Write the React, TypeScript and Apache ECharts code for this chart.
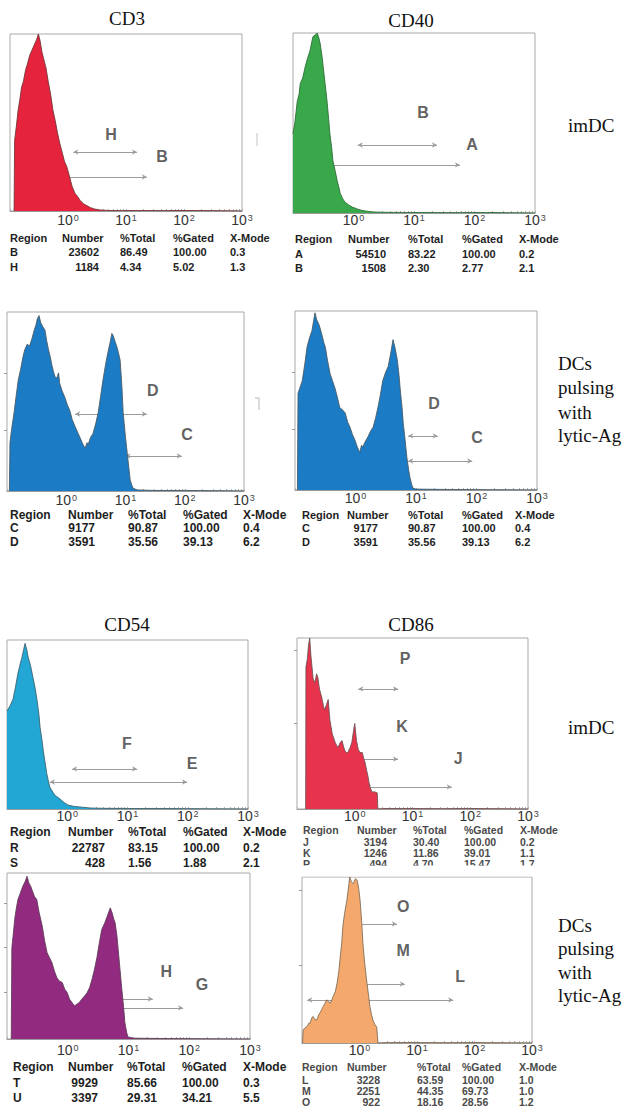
import React, { useEffect, useRef } from "react";
import * as echarts from "echarts";

// ---------- data ----------
const panelTitles = ["CD3", "CD40", "CD54", "CD86"];
const rowLabelTop = "imDC";
const rowLabelBottom = ["DCs", "pulsing", "with", "lytic-Ag"];
const tableHeader = ["Region", "Number", "%Total", "%Gated", "X-Mode"];
const decadeTicks = [0, 1, 2, 3];

// histograms: [log10 fluorescence, relative count (0-100)]
const histCd3Imdc = [
  [-0.93, 0], [-0.92, 40], [-0.89, 48], [-0.86, 57], [-0.83, 63], [-0.8, 70], [-0.77, 73], [-0.73, 80],
  [-0.7, 83], [-0.66, 88], [-0.62, 91], [-0.58, 94], [-0.54, 97], [-0.51, 100], [-0.48, 96], [-0.45, 90],
  [-0.42, 86], [-0.38, 81], [-0.34, 73], [-0.3, 66], [-0.26, 57], [-0.22, 51], [-0.18, 44], [-0.14, 38],
  [-0.1, 33], [-0.06, 28], [-0.02, 25], [0.03, 19], [0.07, 14], [0.12, 10], [0.17, 8], [0.21, 6],
  [0.27, 4], [0.33, 3], [0.38, 2], [0.45, 1.2], [0.55, 0.6], [0.7, 0.3], [0.9, 0.2], [1.2, 0.3],
  [1.6, 0.2], [2.0, 0.3], [2.5, 0.2], [3, 0],
];
const histCd40Imdc = [
  [-1, 44], [-0.97, 50], [-0.93, 62], [-0.9, 66], [-0.88, 72], [-0.84, 75], [-0.8, 81], [-0.76, 86],
  [-0.72, 90], [-0.69, 95], [-0.67, 98], [-0.63, 99], [-0.6, 100], [-0.57, 97], [-0.55, 94], [-0.52, 87],
  [-0.5, 81], [-0.47, 72], [-0.44, 63], [-0.41, 52], [-0.39, 44], [-0.36, 36], [-0.34, 29], [-0.3, 23],
  [-0.27, 18], [-0.24, 14], [-0.22, 11], [-0.18, 8], [-0.14, 6], [-0.08, 4.5], [-0.02, 3.3], [0.05, 2.4],
  [0.11, 1.7], [0.2, 1.1], [0.32, 0.6], [0.5, 0.4], [0.8, 0.3], [1.2, 0.3], [1.6, 0.2], [2.2, 0.3], [3, 0],
];
const histCd3Pulsed = [
  [-0.96, 0], [-0.95, 27], [-0.92, 35], [-0.88, 44], [-0.85, 52], [-0.81, 62], [-0.77, 68], [-0.73, 75],
  [-0.7, 79], [-0.66, 82], [-0.62, 81], [-0.58, 85], [-0.54, 90], [-0.51, 93], [-0.49, 96], [-0.46, 98],
  [-0.43, 94], [-0.4, 92], [-0.36, 90], [-0.33, 84], [-0.3, 79], [-0.27, 75], [-0.24, 70], [-0.21, 66],
  [-0.19, 64], [-0.16, 63], [-0.13, 66], [-0.11, 60], [-0.07, 56], [-0.02, 52], [0.02, 48], [0.06, 45],
  [0.1, 40], [0.15, 36], [0.19, 33], [0.23, 30], [0.27, 27], [0.3, 25], [0.32, 24], [0.35, 27],
  [0.37, 26], [0.41, 30], [0.45, 32], [0.5, 38], [0.54, 44], [0.58, 53], [0.62, 62], [0.66, 70],
  [0.7, 77], [0.74, 83], [0.77, 88], [0.79, 87], [0.82, 84], [0.86, 80], [0.89, 76], [0.91, 73],
  [0.94, 58], [0.96, 44], [1.0, 30], [1.03, 21], [1.06, 12], [1.08, 6], [1.11, 3], [1.13, 1.5],
  [1.2, 0.6], [1.5, 0.3], [2, 0.3], [2.5, 0.2], [3, 0],
];
const histCd40Pulsed = [
  [-0.96, 0], [-0.95, 54], [-0.92, 57], [-0.88, 61], [-0.84, 70], [-0.8, 80], [-0.76, 85], [-0.72, 89],
  [-0.69, 95], [-0.67, 99], [-0.64, 95], [-0.61, 93], [-0.59, 91], [-0.55, 86], [-0.52, 82], [-0.5, 80],
  [-0.46, 72], [-0.42, 65], [-0.38, 61], [-0.34, 57], [-0.3, 52], [-0.26, 46], [-0.22, 45], [-0.17, 43],
  [-0.13, 38], [-0.09, 35], [-0.05, 31], [-0.01, 28], [0.03, 24], [0.07, 21], [0.1, 25], [0.12, 24],
  [0.16, 27], [0.21, 30], [0.25, 33], [0.29, 35], [0.33, 40], [0.37, 46], [0.41, 53], [0.45, 61],
  [0.5, 66], [0.54, 69], [0.58, 76], [0.62, 84], [0.65, 80], [0.69, 73], [0.72, 64], [0.74, 56],
  [0.77, 46], [0.79, 37], [0.82, 28], [0.85, 18], [0.88, 11], [0.9, 7], [0.93, 3], [0.95, 1],
  [1.0, 0.5], [1.5, 0.3], [2, 0.2], [3, 0],
];
const histCd54Imdc = [
  [-1, 58], [-0.95, 61], [-0.9, 65], [-0.86, 72], [-0.82, 80], [-0.78, 86], [-0.75, 90], [-0.72, 95],
  [-0.7, 98], [-0.67, 94], [-0.65, 90], [-0.61, 85], [-0.57, 78], [-0.53, 71], [-0.5, 64], [-0.47, 56],
  [-0.45, 48], [-0.42, 41], [-0.4, 35], [-0.37, 28], [-0.34, 21], [-0.31, 16], [-0.29, 13], [-0.24, 10],
  [-0.2, 8], [-0.14, 6.5], [-0.09, 5], [-0.04, 3.5], [0.01, 2.4], [0.1, 1.6], [0.21, 1.2], [0.38, 0.6],
  [0.6, 0.4], [1, 0.3], [1.5, 0.3], [2, 0.2], [3, 0],
];
const histCd86Imdc = [
  [-0.85, 0], [-0.845, 83], [-0.82, 88], [-0.8, 96], [-0.78, 100], [-0.76, 90], [-0.74, 83], [-0.72, 76],
  [-0.69, 74], [-0.66, 79], [-0.64, 77], [-0.61, 70], [-0.57, 65], [-0.54, 60], [-0.52, 58], [-0.49, 61],
  [-0.46, 64], [-0.43, 52], [-0.39, 44], [-0.36, 41], [-0.34, 39], [-0.31, 37], [-0.29, 36], [-0.25, 39],
  [-0.22, 40], [-0.19, 36], [-0.17, 34], [-0.14, 33], [-0.12, 33], [-0.08, 36], [-0.05, 39], [-0.02, 46],
  [0.0, 50], [0.03, 40], [0.06, 35], [0.09, 33], [0.13, 33], [0.16, 29], [0.18, 27], [0.21, 22],
  [0.23, 19], [0.26, 13], [0.3, 10], [0.35, 10], [0.39, 9.4], [0.4, 0], [0.5, 0.3], [1, 0.3],
  [1.5, 0.2], [2, 0.3], [3, 0],
];
const histCd54Pulsed = [
  [-0.93, 0], [-0.92, 55], [-0.9, 62], [-0.87, 73], [-0.85, 78], [-0.82, 84], [-0.78, 88], [-0.74, 92],
  [-0.7, 95], [-0.67, 98], [-0.64, 94], [-0.61, 92], [-0.59, 90], [-0.55, 86], [-0.51, 84], [-0.47, 76],
  [-0.42, 68], [-0.38, 59], [-0.34, 52], [-0.3, 49], [-0.26, 46], [-0.22, 41], [-0.18, 37], [-0.14, 35],
  [-0.09, 34], [-0.05, 30], [-0.01, 28], [0.03, 24], [0.07, 22], [0.11, 20], [0.15, 21], [0.19, 22],
  [0.23, 24], [0.28, 26], [0.32, 28], [0.36, 31], [0.4, 36], [0.44, 42], [0.48, 49], [0.52, 58],
  [0.56, 66], [0.61, 70], [0.65, 74], [0.68, 77], [0.7, 79], [0.73, 76], [0.76, 72], [0.78, 70],
  [0.81, 62], [0.83, 54], [0.86, 42], [0.89, 30], [0.92, 19], [0.94, 10], [0.97, 4], [0.99, 1.2],
  [1.1, 0.5], [1.5, 0.3], [2, 0.2], [3, 0],
];
const histCd86Pulsed = [
  [-0.99, 0], [-0.98, 8], [-0.95, 9], [-0.91, 10], [-0.88, 12], [-0.86, 12], [-0.83, 15], [-0.81, 16],
  [-0.77, 14], [-0.74, 14], [-0.71, 17], [-0.69, 18], [-0.66, 20], [-0.63, 22], [-0.6, 24], [-0.57, 26],
  [-0.54, 25], [-0.51, 24], [-0.48, 26], [-0.46, 28], [-0.42, 31], [-0.39, 36], [-0.36, 43], [-0.34, 50],
  [-0.31, 60], [-0.29, 70], [-0.26, 78], [-0.22, 86], [-0.19, 94], [-0.17, 100], [-0.14, 97], [-0.11, 96],
  [-0.07, 99], [-0.04, 98], [-0.01, 92], [0.01, 86], [0.04, 72], [0.06, 60], [0.09, 48], [0.13, 36],
  [0.16, 28], [0.18, 22], [0.21, 17], [0.23, 14], [0.27, 11], [0.3, 9.6], [0.32, 0], [0.5, 0.3],
  [1, 0.3], [1.5, 0.2], [2, 0.3], [3, 0],
];

// region markers: [name, from, to, level]
const gatesCd3Imdc = [["H", 0.09, 1.19, 33.3], ["B", -0.5, 1.36, 19.2]];
const gatesCd40Imdc = [["B", 0.07, 1.38, 37.8], ["A", -1, 1.76, 26.7]];
const gatesCd3Pulsed = [["D", 0.15, 1.36, 43], ["C", 1.0, 1.95, 19.6]];
const gatesCd40Pulsed = [["D", 0.87, 1.36, 30.2], ["C", 0.87, 1.93, 16.2]];
const gatesCd54Imdc = [["F", 0.08, 1.16, 23.7], ["E", -0.29, 1.99, 16]];
const gatesCd86Imdc = [["P", 0.06, 0.75, 70.2], ["K", -0.1, 0.75, 29.2], ["J", 0.2, 1.68, 12.9]];
const gatesCd54Pulsed = [["H", 0.8, 1.4, 24.1], ["G", 0.8, 1.9, 18.7]];
const gatesCd86Pulsed = [["O", -0.17, 0.65, 71.7], ["M", -0.17, 0.79, 35.5], ["L", -0.91, 1.63, 25.9]];

// statistics tables
const tableCd3Imdc = [["B", "23602", "86.49", "100.00", "0.3"], ["H", "1184", "4.34", "5.02", "1.3"]];
const tableCd40Imdc = [["A", "54510", "83.22", "100.00", "0.2"], ["B", "1508", "2.30", "2.77", "2.1"]];
const tableCd3Pulsed = [["C", "9177", "90.87", "100.00", "0.4"], ["D", "3591", "35.56", "39.13", "6.2"]];
const tableCd40Pulsed = [["C", "9177", "90.87", "100.00", "0.4"], ["D", "3591", "35.56", "39.13", "6.2"]];
const tableCd54Imdc = [["R", "22787", "83.15", "100.00", "0.2"], ["S", "428", "1.56", "1.88", "2.1"]];
const tableCd86Imdc = [["J", "3194", "30.40", "100.00", "0.2"], ["K", "1246", "11.86", "39.01", "1.1"], ["P", "494", "4.70", "15.47", "1.7"]];
const tableCd54Pulsed = [["T", "9929", "85.66", "100.00", "0.3"], ["U", "3397", "29.31", "34.21", "5.5"]];
const tableCd86Pulsed = [["L", "3228", "63.59", "100.00", "1.0"], ["M", "2251", "44.35", "69.73", "1.0"], ["O", "922", "18.16", "28.56", "1.2"]];

// ---------- layout ----------
const SANS = "'Liberation Sans', Arial, Helvetica, sans-serif";
const SERIF = "'Liberation Serif', 'Times New Roman', serif";

const panels = [
  { box: [10, 34, 232, 177], color: "#e5233d", edge: "#6e3434", hist: histCd3Imdc, gates: gatesCd3Imdc,
    labelAt: { H: [0.74, 43.5], B: [1.62, 31] }, table: tableCd3Imdc, cols: [10, 62, 99, 120, 173, 230],
    rowsY: [238, 252, 267], font: 11, tcolor: "#1e1e1e", margin: 2, yTicks: [] },
  { box: [293, 33, 242, 180], color: "#39a84b", edge: "#2d6a34", hist: histCd40Imdc, gates: gatesCd40Imdc,
    labelAt: { B: [1.15, 55.6], A: [1.96, 38.3] }, table: tableCd40Imdc, cols: [295, 348, 386, 408, 462, 519],
    rowsY: [239, 254, 268], font: 11, tcolor: "#1e1e1e", margin: 0, yTicks: [] },
  { box: [7, 312, 237, 179], color: "#1b7bc4", edge: "#4a5860", hist: histCd3Pulsed, gates: gatesCd3Pulsed,
    labelAt: { D: [1.46, 56.4], C: [2.04, 31.8] }, table: tableCd3Pulsed, cols: [10, 68, 95, 128, 183, 243],
    rowsY: [515, 528, 542], font: 12, tcolor: "#1e1e1e", margin: 2, yTicks: [34, 66] },
  { box: [295, 311, 242, 179], color: "#1b7bc4", edge: "#4a5860", hist: histCd40Pulsed, gates: gatesCd40Pulsed,
    labelAt: { D: [1.3, 48.6], C: [2.01, 29.6] }, table: tableCd40Pulsed, cols: [302, 347, 378, 408, 462, 515],
    rowsY: [515, 528, 542], font: 11, tcolor: "#1e1e1e", margin: 1, yTicks: [34, 66] },
  { box: [7, 640, 241, 169], color: "#22a6d4", edge: "#3b5e6a", hist: histCd54Imdc, gates: gatesCd54Imdc,
    labelAt: { F: [0.99, 39], E: [2.07, 27.2] }, table: tableCd54Imdc, cols: [10, 68, 105, 128, 183, 243],
    rowsY: [832, 848, 863], font: 12, tcolor: "#1e1e1e", margin: 0, yTicks: [] },
  { box: [297, 638, 231, 171], color: "#e8334d", edge: "#6a5050", hist: histCd86Imdc, gates: gatesCd86Imdc,
    labelAt: { P: [0.87, 88.3], K: [0.82, 48], J: [1.79, 29.8] }, table: tableCd86Imdc, cols: [303, 357, 387, 413, 464, 520],
    rowsY: [830, 842, 853, 864], font: 10.5, tcolor: "#4a4a4a", margin: 0, yTicks: [50, 93] },
  { box: [7, 873, 243, 166], color: "#922b7f", edge: "#5a3a55", hist: histCd54Pulsed, gates: gatesCd54Pulsed,
    labelAt: { H: [1.62, 40.4], G: [2.21, 33.1] }, table: tableCd54Pulsed, cols: [13, 68, 98, 127, 182, 243],
    rowsY: [1067, 1083, 1098], font: 12, tcolor: "#1e1e1e", margin: 4, yTicks: [28, 55, 82] },
  { box: [302, 877, 230, 166], color: "#f5a86c", edge: "#7a6a55", hist: histCd86Pulsed, gates: gatesCd86Pulsed,
    labelAt: { O: [0.76, 82.5], M: [0.76, 56], L: [1.75, 39.8] }, table: tableCd86Pulsed, cols: [302, 347, 380, 417, 462, 519],
    rowsY: [1067, 1080, 1091, 1102], font: 10.5, tcolor: "#4a4a4a", margin: 0, yTicks: [47, 92] },
];

const titlePos = [[127, 18], [411, 20], [127, 624], [411, 624]];

const minorTicks: number[] = [];
[-1, 0, 1, 2].forEach((d) => {
  minorTicks.push(d);
  [2, 3, 4, 5, 6, 7, 8, 9].forEach((k) => minorTicks.push(d + Math.log10(k)));
});
minorTicks.push(3);

function buildOption() {
  const grid = panels.map((p) => ({
    left: p.box[0], top: p.box[1], width: p.box[2], height: p.box[3],
    show: true, borderColor: "#a9a9a9", borderWidth: 1, backgroundColor: "transparent",
    containLabel: false, outerBoundsMode: "none",
  }));
  const xAxis = panels.map((p, i) => ({
    type: "value", gridIndex: i, min: -1, max: 3,
    axisLine: { show: true, onZero: false, lineStyle: { color: "#9a9a9a", width: 1 } },
    axisTick: { show: true, inside: true, length: 2, customValues: minorTicks, lineStyle: { color: "#b0b0b0" } },
    splitLine: { show: false },
    axisLabel: {
      show: true, customValues: decadeTicks, margin: p.margin,
      formatter: (v: number) => `{b|10}{s|${Math.round(v)}}`,
      rich: {
        b: { fontSize: 14, lineHeight: 14, fontFamily: SANS, color: "#333" },
        s: { fontSize: 9, lineHeight: 14, fontFamily: SANS, color: "#444", verticalAlign: "top", padding: [0, 0, 0, 1] },
      },
    },
  }));
  const yAxis = panels.map((p, i) => ({
    type: "value", gridIndex: i, min: 0, max: 100,
    axisLine: { show: false, onZero: false },
    axisTick: { show: p.yTicks.length > 0, customValues: p.yTicks, length: 3, lineStyle: { color: "#9a9a9a" } },
    axisLabel: { show: false },
    splitLine: { show: false },
  }));
  const series: any[] = [];
  panels.forEach((p, i) => {
    series.push({
      type: "line", xAxisIndex: i, yAxisIndex: i, data: p.hist, symbol: "none", smooth: false, z: 3,
      silent: true,
      lineStyle: { color: p.edge, width: 1, opacity: 0.85 },
      areaStyle: { color: p.color, opacity: 1 },
      markLine: {
        silent: true, z: 1, symbol: ["arrow", "arrow"], symbolSize: [4, 5],
        lineStyle: { color: "#9c9c9c", width: 1, type: "solid" },
        label: { show: false },
        data: p.gates.map((g: any) => [{ coord: [g[1], g[3]] }, { coord: [g[2], g[3]] }]),
      },
    });
    series.push({
      type: "scatter", xAxisIndex: i, yAxisIndex: i, symbolSize: 1, z: 4, silent: true,
      itemStyle: { color: "transparent" },
      data: p.gates.map((g: any) => ({ name: g[0], value: (p.labelAt as any)[g[0]] })),
      label: {
        show: true, position: "inside", formatter: "{b}",
        fontSize: 16, fontWeight: "bold", fontFamily: SANS, color: "#383838",
      },
    });
  });

  const graphic: any[] = [];
  panelTitles.forEach((t, i) => {
    graphic.push({
      type: "text", x: titlePos[i][0], y: titlePos[i][1],
      style: { text: t, fontSize: 19, fontFamily: SERIF, fill: "#111", align: "center", verticalAlign: "middle" },
    });
  });
  [125, 727].forEach((y) => {
    graphic.push({
      type: "text", x: 568, y,
      style: { text: rowLabelTop, fontSize: 19, fontFamily: SERIF, fill: "#111", align: "left", verticalAlign: "middle" },
    });
  });
  [[363, 387, 412, 435], [925, 948, 972, 995]].forEach((ys) => {
    rowLabelBottom.forEach((t, k) => {
      graphic.push({
        type: "text", x: 558, y: ys[k],
        style: { text: t, fontSize: 19, fontFamily: SERIF, fill: "#111", align: "left", verticalAlign: "middle" },
      });
    });
  });

  panels.forEach((p) => {
    const [cReg, cNumHead, cNumVal, cTot, cGat, cMode] = p.cols;
    const base = { fontSize: p.font, fontWeight: "bold", fontFamily: SANS, fill: p.tcolor, verticalAlign: "middle" };
    const headX = [cReg, cNumHead, cTot, cGat, cMode];
    tableHeader.forEach((h, k) => {
      graphic.push({ type: "text", x: headX[k], y: p.rowsY[0], z: 10, style: { ...base, text: h, align: "left" } });
    });
    p.table.forEach((row, r) => {
      const y = p.rowsY[r + 1];
      graphic.push({ type: "text", x: cReg, y, z: 10, style: { ...base, text: row[0], align: "left" } });
      graphic.push({ type: "text", x: cNumVal, y, z: 10, style: { ...base, text: row[1], align: "right" } });
      graphic.push({ type: "text", x: cTot, y, z: 10, style: { ...base, text: row[2], align: "left" } });
      graphic.push({ type: "text", x: cGat, y, z: 10, style: { ...base, text: row[3], align: "left" } });
      graphic.push({ type: "text", x: cMode, y, z: 10, style: { ...base, text: row[4], align: "left" } });
    });
  });
  // the last CD86 imDC row is cut off by the panel below
  graphic.push({ type: "rect", z: 11, shape: { x: 298, y: 865.5, width: 275, height: 11 }, style: { fill: "#fff" } });
  // scanning marks at the right of two frames
  graphic.push({ type: "line", z: 10, shape: { x1: 257, y1: 133, x2: 257, y2: 146 }, style: { stroke: "#c4c4c4", lineWidth: 1 } });
  graphic.push({ type: "polyline", z: 10, shape: { points: [[255, 398], [259, 398], [259, 410]] }, style: { stroke: "#b8b8b8", lineWidth: 1, fill: "none" } });

  return { animation: false, backgroundColor: "#fff", grid, xAxis, yAxis, series, graphic };
}

export default function App() {
  const ref = useRef<HTMLDivElement>(null);
  useEffect(() => {
    if (!ref.current) return;
    const chart = echarts.init(ref.current, undefined, { renderer: "svg" });
    chart.setOption(buildOption() as any);
    return () => chart.dispose();
  }, []);
  return (
    <div
      ref={ref}
      style={{ position: "absolute", left: 0, top: 0, width: 638, height: 1111, background: "#fff" }}
    />
  );
}
